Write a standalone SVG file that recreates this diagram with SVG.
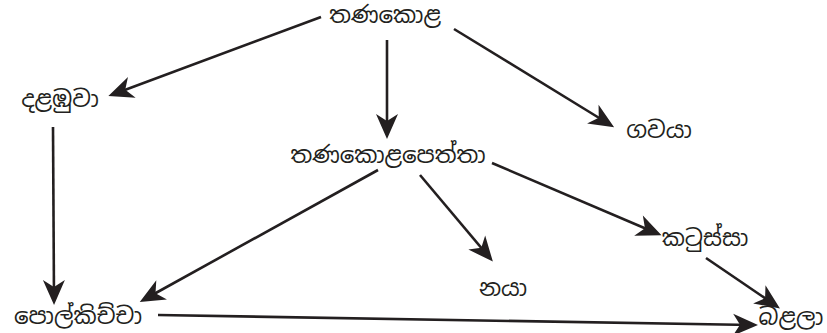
<svg xmlns="http://www.w3.org/2000/svg" width="827" height="333" viewBox="0 0 827 333">
<style>
.t{font-family:"Noto Sans Sinhala","Noto Serif Sinhala","Iskoola Pota","Noto Sans","DejaVu Sans",sans-serif;font-size:23px;fill:#231f20;text-anchor:middle}
.c line{stroke:#231f20;stroke-width:2.6;marker-end:url(#ah)}
</style>
<defs>
<marker id="ah" markerUnits="userSpaceOnUse" markerWidth="40" markerHeight="40" viewBox="-20 -20 40 40" refX="0" refY="0" orient="auto" overflow="visible">
<path d="M6,0 L-19,-11 L-12,0 L-19,11 Z" fill="#231f20"/>
</marker>
</defs>
<rect width="827" height="333" fill="#fff"/>
<g class="c" id="connectors">
<line x1="321" y1="17" x2="114" y2="94"/>
<line x1="387" y1="40" x2="387" y2="133"/>
<line x1="454" y1="29" x2="609" y2="124"/>
<line x1="53" y1="127" x2="54" y2="299"/>
<line x1="378" y1="170" x2="145" y2="299"/>
<line x1="420" y1="175" x2="489" y2="257"/>
<line x1="492" y1="163" x2="656" y2="233"/>
<line x1="706" y1="258" x2="775" y2="305"/>
<line x1="158" y1="315" x2="752" y2="325"/>
</g>
<g id="n1"><text class="t" x="385" y="23">තණකොළ</text></g>
<g id="n2"><text class="t" x="60" y="107">දළඹුවා</text></g>
<g id="n3"><text class="t" x="659" y="138">ගවයා</text></g>
<g id="n4"><text class="t" x="388" y="163">තණකොළපෙත්තා</text></g>
<g id="n5"><text class="t" x="705" y="246">කටුස්සා</text></g>
<g id="n6"><text class="t" x="503" y="296">නයා</text></g>
<g id="n7"><text class="t" x="78" y="324">පොල්කිච්චා</text></g>
<g id="n8"><text class="t" x="791" y="325">බළලා</text></g>
</svg>
